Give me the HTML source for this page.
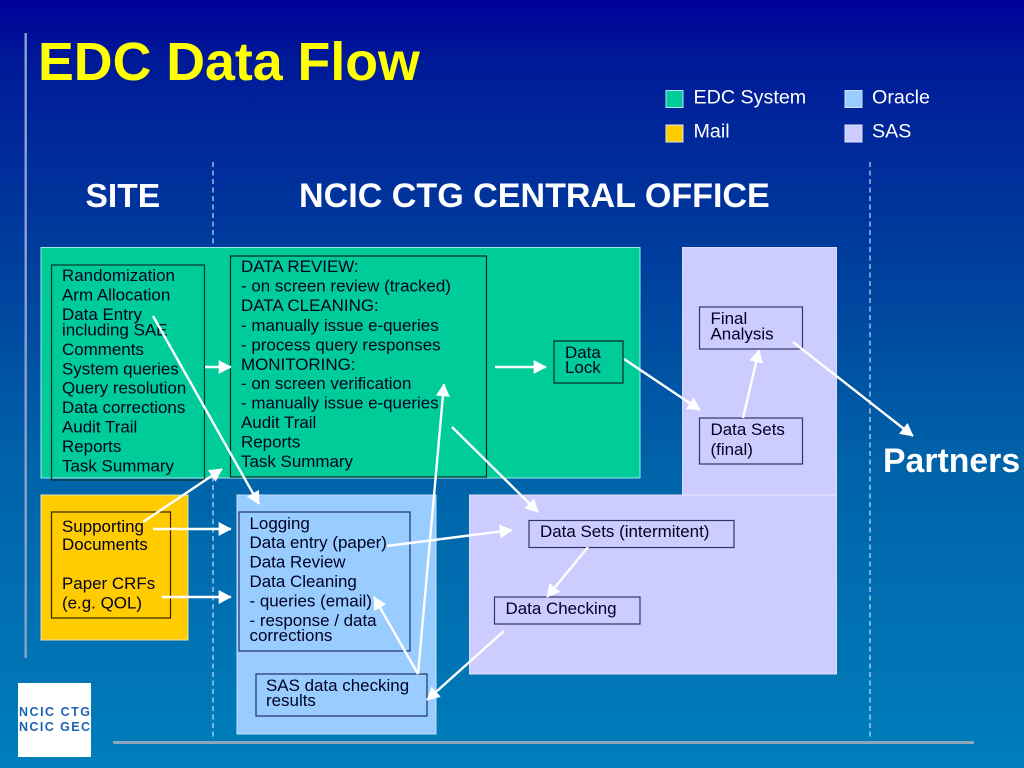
<!DOCTYPE html>
<html>
<head>
<meta charset="utf-8">
<style>
html,body{margin:0;padding:0;width:1024px;height:768px;overflow:hidden;background:#00349c}
svg{display:block;position:absolute;left:0;top:0}
text{font-family:"Liberation Sans",Arial,sans-serif}
.t{font-size:16.95px;fill:#000022}
.l{font-size:19.7px;fill:#fff}
.h{font-size:33.6px;font-weight:bold;fill:#fff}
.a{stroke:#fff;stroke-width:2.4;fill:none;marker-end:url(#ah)}
</style>
</head>
<body>
<svg width="1024" height="768" viewBox="0 0 1024 768" xmlns="http://www.w3.org/2000/svg">
<defs>
<linearGradient id="bg" x1="0" y1="0" x2="0" y2="1">
<stop offset="0" stop-color="#000099"/>
<stop offset="0.08" stop-color="#001a98"/>
<stop offset="0.3" stop-color="#00399c"/>
<stop offset="0.6" stop-color="#0062a8"/>
<stop offset="1" stop-color="#007ebb"/>
</linearGradient>
<marker id="ah" viewBox="0 0 10 10" refX="9.5" refY="5" markerWidth="13" markerHeight="14" markerUnits="userSpaceOnUse" orient="auto" preserveAspectRatio="none">
<path d="M0 0L10 5L0 10Z" fill="#fff"/>
</marker>
</defs>
<rect width="1024" height="768" fill="url(#bg)"/>

<!-- frame lines -->
<rect x="24.5" y="33" width="2.4" height="625" fill="#8f9fd0"/>
<rect x="113" y="741" width="861" height="3" fill="#8ea6bc"/>
<line x1="213" y1="162" x2="213" y2="740" stroke="#f0f7ff" stroke-width="1" stroke-dasharray="5 3.5"/>
<line x1="870" y1="162" x2="870" y2="740" stroke="#f0f7ff" stroke-width="1" stroke-dasharray="5 3.5"/>

<!-- headings -->
<text x="38" y="80" font-size="53.7" font-weight="bold" fill="#ffff00">EDC Data Flow</text>
<text x="85.5" y="207" class="h">SITE</text>
<text x="299" y="207" class="h" style="font-size:34.1px">NCIC CTG CENTRAL OFFICE</text>
<text x="883" y="472" class="h" style="font-size:33.8px">Partners</text>

<!-- legend -->
<rect x="666" y="90.5" width="17" height="17" fill="#00cc99" stroke="#b5e6f0" stroke-width="1"/>
<rect x="666" y="125" width="17" height="17" fill="#ffcc00" stroke="#dfe6e0" stroke-width="1"/>
<rect x="845" y="90.5" width="17" height="17" fill="#99ccff" stroke="#cfe4f8" stroke-width="1"/>
<rect x="845" y="125" width="17" height="17" fill="#ccccff" stroke="#e2e2fa" stroke-width="1"/>
<text x="693.5" y="103.5" class="l">EDC System</text>
<text x="693.5" y="137.5" class="l">Mail</text>
<text x="872" y="103.5" class="l">Oracle</text>
<text x="872" y="137.5" class="l">SAS</text>

<!-- zones -->
<rect x="41" y="247.5" width="599" height="230.5" fill="#00cc99" stroke="#9fe6e8" stroke-width="1"/>
<rect x="41" y="495" width="147" height="145" fill="#ffcc00" stroke="#e6e2b0" stroke-width="1"/>
<rect x="237" y="495" width="199" height="239" fill="#99ccff" stroke="#c4e0fb" stroke-width="1"/>
<path d="M682.5 247.5H836.5V674H469.5V495H682.5Z" fill="#ccccff" stroke="#dcdcff" stroke-width="1"/>
<line x1="682" y1="495" x2="836" y2="495" stroke="#e6e6ff" stroke-width="1.2"/>

<!-- boxes -->
<g fill="none" stroke-width="1.2">
<rect x="51.5" y="265" width="153" height="215" stroke="#00332a"/>
<rect x="230.5" y="256" width="256" height="221" stroke="#00281f"/>
<rect x="554" y="341" width="69" height="42" stroke="#00281f"/>
<rect x="51.5" y="512" width="119" height="106" stroke="#332200"/>
<rect x="239" y="512" width="171" height="139" stroke="#1f3366"/>
<rect x="256" y="674" width="171" height="42" stroke="#1f3366"/>
<rect x="699.5" y="307" width="103" height="42" stroke="#333366"/>
<rect x="699.5" y="418" width="103" height="46" stroke="#333366"/>
<rect x="529" y="520.5" width="205" height="27" stroke="#333366"/>
<rect x="494.5" y="597" width="145.5" height="27" stroke="#333366"/>
</g>

<!-- site list -->
<text x="62" y="281" class="t">Randomization</text>
<text x="62" y="300.5" class="t">Arm Allocation</text>
<text x="62" y="320" class="t">Data Entry</text>
<text x="62" y="335.5" class="t">including SAE</text>
<text x="62" y="355" class="t">Comments</text>
<text x="62" y="374.5" class="t">System queries</text>
<text x="62" y="393.5" class="t">Query resolution</text>
<text x="62" y="413" class="t">Data corrections</text>
<text x="62" y="432.5" class="t">Audit Trail</text>
<text x="62" y="452" class="t">Reports</text>
<text x="62" y="471.5" class="t">Task Summary</text>

<!-- review list -->
<text x="241" y="272" class="t">DATA REVIEW:</text>
<text x="241" y="291.5" class="t">- on screen review (tracked)</text>
<text x="241" y="311" class="t">DATA CLEANING:</text>
<text x="241" y="331" class="t">- manually issue e-queries</text>
<text x="241" y="350.5" class="t">- process query responses</text>
<text x="241" y="370" class="t">MONITORING:</text>
<text x="241" y="389" class="t">- on screen verification</text>
<text x="241" y="408.5" class="t">- manually issue e-queries</text>
<text x="241" y="428" class="t">Audit Trail</text>
<text x="241" y="447.5" class="t">Reports</text>
<text x="241" y="467" class="t">Task Summary</text>

<text x="565" y="358" class="t">Data</text>
<text x="565" y="373" class="t">Lock</text>

<!-- mail -->
<text x="62" y="532" class="t">Supporting</text>
<text x="62" y="550" class="t">Documents</text>
<text x="62" y="589" class="t">Paper CRFs</text>
<text x="62" y="608.5" class="t">(e.g. QOL)</text>

<!-- oracle -->
<text x="249.5" y="529" class="t">Logging</text>
<text x="249.5" y="548" class="t">Data entry (paper)</text>
<text x="249.5" y="567.5" class="t">Data Review</text>
<text x="249.5" y="587" class="t">Data Cleaning</text>
<text x="249.5" y="606.5" class="t">- queries (email)</text>
<text x="249.5" y="626" class="t">- response / data</text>
<text x="249.5" y="641" class="t">corrections</text>
<text x="266" y="691" class="t">SAS data checking</text>
<text x="266" y="706" class="t">results</text>

<!-- sas -->
<text x="710.5" y="324" class="t">Final</text>
<text x="710.5" y="339.5" class="t">Analysis</text>
<text x="710.5" y="435" class="t">Data Sets</text>
<text x="710.5" y="455" class="t">(final)</text>
<text x="540" y="537" class="t">Data Sets (intermitent)</text>
<text x="505.5" y="614" class="t">Data Checking</text>

<!-- connectors -->
<line class="a" x1="153" y1="316" x2="259" y2="504"/>
<line class="a" x1="205" y1="367" x2="231" y2="367"/>
<line class="a" x1="495" y1="367" x2="546" y2="367"/>
<line class="a" x1="143" y1="522" x2="222" y2="469"/>
<line class="a" x1="153" y1="529" x2="231" y2="529"/>
<line class="a" x1="162" y1="597" x2="231" y2="597"/>
<line class="a" x1="387" y1="546" x2="512" y2="530"/>
<line class="a" x1="418" y1="674" x2="444" y2="384"/>
<line class="a" x1="418" y1="674" x2="374" y2="597"/>
<line class="a" x1="504" y1="631" x2="427" y2="700"/>
<line class="a" x1="452" y1="427" x2="538" y2="512"/>
<line class="a" x1="624" y1="359" x2="700" y2="410"/>
<line class="a" x1="743" y1="418" x2="759" y2="350"/>
<line class="a" x1="793" y1="342" x2="913" y2="436"/>
<line class="a" x1="588" y1="547" x2="547" y2="597"/>

<!-- logo -->
<rect x="18" y="683" width="73" height="74" fill="#fff"/>
<text x="19" y="716" font-size="12.5" font-weight="bold" fill="#1c62b8" textLength="71" lengthAdjust="spacing">NCIC CTG</text>
<text x="19" y="731" font-size="12.5" font-weight="bold" fill="#1c62b8" textLength="71" lengthAdjust="spacing">NCIC GEC</text>
</svg>
</body>
</html>
